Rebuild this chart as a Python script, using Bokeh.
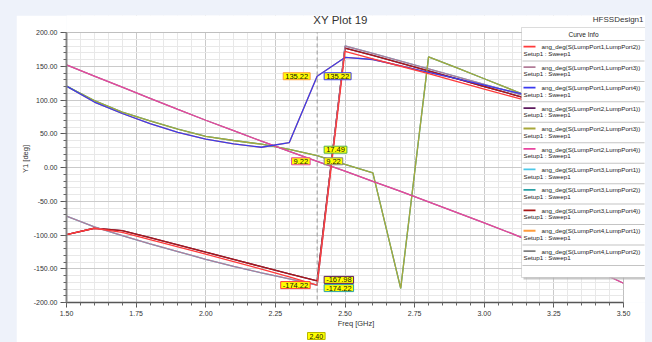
from bokeh.plotting import figure
from bokeh.layouts import column
from bokeh.models import (Range1d, SingleIntervalTicker, NumeralTickFormatter, Span,
                          Label, BoxAnnotation, Title)
from bokeh.embed import file_html
from bokeh.resources import INLINE

# ---------------- data ----------------
freq = [1.5, 1.6, 1.7, 1.8, 1.9, 2.0, 2.1, 2.2, 2.3, 2.4, 2.5,
        2.6, 2.7, 2.8, 2.9, 3.0, 3.1, 3.2, 3.3, 3.4, 3.5]

s12 = [-99.5, -90, -96, -107, -117.5, -128.5, -139.5, -150.5, -162, -174.22, 172,
       161, 150, 139, 127.5, 116, 105, 94, 83, 72, 61]
s13 = [-72, -88, -101, -113, -124.5, -136, -146.5, -156, -165, -174.22, 180,
       169, 157.5, 146, 134.5, 123, 111.5, 100, 88.5, 77, 65.5]
s14 = [120.5, 97, 80, 65, 52, 42, 35, 30, 37, 135.22, 163,
       160, 150.5, 141, 131.5, 122, 112.5, 103, 93.5, 84, 74.5]
s21 = [-99.5, -90, -93.5, -104, -114.5, -125.5, -136, -147, -157.5, -167.98, 177,
       166, 154.5, 143, 131.5, 120, 108.5, 97, 85.5, 74, 62.5]
s23 = [120.5, 99, 82, 69, 57, 46, 40, 34.5, 27, 17.49, 4.7,
       -8, -179, 164, 148, 131.5, 115, 98.5, 82, 65.5, 49]
s24 = [152, 135.5, 119, 102.5, 86, 70, 54.5, 39, 24, 9.22, -5.5,
       -20.5, -35.5, -51, -66.5, -82, -98, -115, -133, -152, -171.5]
s31 = [-72, -88, -101, -113, -124.5, -136, -146.5, -156, -165, -174.22, 180,
       169, 157.5, 146, 134.5, 123, 111.5, 100, 88.5, 77, 65.5]
s32 = [120.5, 99, 82, 69, 57, 46, 40, 34.5, 27, 17.49, 4.7,
       -8, -179, 164, 148, 131.5, 115, 98.5, 82, 65.5, 49]
s34 = [-99.5, -90, -93.5, -104, -114.5, -125.5, -136, -147, -157.5, -167.98, 177,
       166, 154.5, 143, 131.5, 120, 108.5, 97, 85.5, 74, 62.5]
s41 = [120.5, 97, 80, 65, 52, 42, 35, 30, 37, 135.22, 163,
       160, 150.5, 141, 131.5, 122, 112.5, 103, 93.5, 84, 74.5]
s42 = [152, 135.5, 119, 102.5, 86, 70, 54.5, 39, 24, 9.22, -5.5,
       -20.5, -35.5, -51, -66.5, -82, -98, -115, -133, -152, -171.5]

names = ["ang_deg(S(LumpPort1,LumpPort2))", "ang_deg(S(LumpPort1,LumpPort3))",
         "ang_deg(S(LumpPort1,LumpPort4))", "ang_deg(S(LumpPort2,LumpPort1))",
         "ang_deg(S(LumpPort2,LumpPort3))", "ang_deg(S(LumpPort2,LumpPort4))",
         "ang_deg(S(LumpPort3,LumpPort1))", "ang_deg(S(LumpPort3,LumpPort2))",
         "ang_deg(S(LumpPort3,LumpPort4))", "ang_deg(S(LumpPort4,LumpPort1))",
         "ang_deg(S(LumpPort4,LumpPort2))"]
setup_label = "Setup1 : Sweep1"
marker_freq = 2.4
x_lim = (1.5, 3.5)
y_lim = (-200, 200)

colors = ["#ff3b3b", "#b27c98", "#3a3af0", "#5c1a5e", "#a8a83a", "#e8459f",
          "#4cc8e8", "#2aa0a4", "#a81818", "#ff9d3c", "#808080"]
series = [s12, s13, s14, s21, s23, s24, s31, s32, s34, s41, s42]
draw_order = [9, 10, 7, 6, 3, 8, 1, 4, 5, 2, 0]

FONT = "Liberation Sans"

# ---------------- layout (figure pixels) ----------------
MARGIN_L, MARGIN_T = 16, 15
FIG_W, FIG_H = 629, 327
FRAME_L, FRAME_R = 50, 629      # frame spans the legend column too
FRAME_T, FRAME_B = 0, 287
DATA_R, DATA_T = 607, 17         # pixel where x=3.5 and y=200 fall
px_per_x = (DATA_R - FRAME_L) / (x_lim[1] - x_lim[0])
px_per_y = (FRAME_B - DATA_T) / (y_lim[1] - y_lim[0])
x_end = x_lim[1] + (FRAME_R - DATA_R) / px_per_x
y_end = y_lim[1] + (DATA_T - FRAME_T) / px_per_y

p = figure(width=FIG_W, height=FIG_H, output_backend="svg", toolbar_location=None,
           x_range=Range1d(x_lim[0], x_end), y_range=Range1d(y_lim[0], y_end),
           min_border_left=FRAME_L, min_border_right=FIG_W - FRAME_R,
           min_border_top=FRAME_T, min_border_bottom=FIG_H - FRAME_B)
p.margin = (MARGIN_T, 652 - MARGIN_L - FIG_W, 0, MARGIN_L)
p.title.visible = False
p.background_fill_color = "white"
p.border_fill_color = "white"
p.outline_line_color = None

p.xaxis.ticker = SingleIntervalTicker(interval=0.25, num_minor_ticks=5)
p.yaxis.ticker = SingleIntervalTicker(interval=50, num_minor_ticks=5)
p.xaxis.formatter = NumeralTickFormatter(format="0.00")
p.yaxis.formatter = NumeralTickFormatter(format="0.00")
p.xaxis.bounds = x_lim
p.yaxis.bounds = y_lim
p.xaxis.axis_label = "Freq [GHz]"
p.yaxis.axis_label = "Y1 [deg]"
for ax in (p.xaxis[0], p.yaxis[0]):
    ax.axis_label_text_font = FONT
    ax.axis_label_text_font_size = "7.5px"
    ax.axis_label_text_font_style = "normal"
    ax.axis_label_text_color = "#333333"
    ax.major_label_text_font = FONT
    ax.major_label_text_font_size = "7px"
    ax.major_label_text_color = "#333333"
    ax.major_tick_in = 0
    ax.minor_tick_in = 0
    ax.minor_tick_out = 3
    ax.major_tick_line_color = "#555555"
    ax.minor_tick_line_color = "#666666"
    ax.major_label_standoff = 3
p.yaxis.major_tick_out = 6
p.yaxis.axis_label_standoff = 1
p.xaxis.major_tick_out = 5
p.xaxis.axis_label_standoff = 0
p.yaxis.axis_line_color = "#8a8a8a"
p.yaxis.axis_line_width = 2
p.xaxis.axis_line_color = "#555555"
p.xaxis.axis_line_width = 1.5

for g in (p.xgrid[0], p.ygrid[0]):
    g.grid_line_color = "#cacaca"
    g.minor_grid_line_color = "#e8e8e8"

renderers = [None] * len(series)
for i in draw_order:
    renderers[i] = p.line(freq, series[i], line_color=colors[i], line_width=1.3)

# marker line at 2.40
p.add_layout(Span(location=marker_freq, dimension="height", line_color="#9a9a9a",
                  line_dash="4 3", line_width=1))

# white cover outside the data area, then the frame border
p.add_layout(BoxAnnotation(bottom=y_lim[1], fill_color="white", fill_alpha=1,
                           line_color=None))
p.add_layout(BoxAnnotation(left=x_lim[1], fill_color="white", fill_alpha=1,
                           line_color=None))
p.add_layout(BoxAnnotation(left=x_lim[0], right=x_lim[1], bottom=y_lim[0], top=y_lim[1],
                           fill_alpha=0, line_color="#666666", line_width=1))

mi = freq.index(marker_freq)

def marker_label(vals, color, side, dy=0):
    p.add_layout(Label(x=marker_freq, y=vals[mi], text="%.2f" % vals[mi],
                       x_offset=(-7 if side == "left" else 7), y_offset=dy,
                       text_align=("right" if side == "left" else "left"),
                       text_baseline="middle", text_font=FONT, text_font_size="7.5px",
                       text_color="#111111", background_fill_color="#ffff00",
                       border_line_color=color, border_line_width=1, padding=(2, 1)))

marker_label(s41, colors[9], "left")
marker_label(s14, colors[2], "right")
marker_label(s24, colors[5], "left")
marker_label(s42, colors[10], "right")
marker_label(s32, "#50b050", "right", dy=6)
marker_label(s12, colors[0], "left")
marker_label(s13, colors[7], "right", dy=-3)
marker_label(s21, colors[3], "right", dy=1)

p.add_layout(Title(text="%.2f" % marker_freq, align="left",
                   offset=int(round((marker_freq - x_lim[0]) * px_per_x)) - 10,
                   text_font=FONT, text_font_size="7px", text_font_style="normal",
                   text_color="#111111", background_fill_color="#ffff00",
                   border_line_color="#b8b800", padding=(2, 1), standoff=0), "below")

# ---- screen helpers (page coords -> frame-relative screen units) ----
PAGE_FRAME_L = MARGIN_L + FRAME_L
PAGE_FRAME_B = MARGIN_T + FRAME_B
def sx(X):
    return X - PAGE_FRAME_L
def sy(Y):
    return PAGE_FRAME_B - Y

def text(X, Y, s, size, align="left", color="#222222"):
    p.add_layout(Label(x=sx(X), y=sy(Y), x_units="screen", y_units="screen", text=s,
                       text_align=align, text_baseline="middle", text_font=FONT,
                       text_font_size=size, text_color=color))

def hbox(X0, X1, Y0, Y1, fill, line=None, alpha=1.0):
    p.add_layout(BoxAnnotation(left=sx(X0), right=sx(X1), top=sy(Y0), bottom=sy(Y1),
                               left_units="screen", right_units="screen",
                               top_units="screen", bottom_units="screen",
                               fill_color=fill, fill_alpha=alpha, line_color=line,
                               line_width=1))

# titles
text(340, 19, "XY Plot 19", "11.5px", align="center", color="#333333")
text(643, 18.5, "HFSSDesign1", "8px", align="right", color="#333333")

# ---- curve info box ----
LEG_L, LEG_R, LEG_T, LEG_B = 521, 645, 27, 277
hbox(LEG_L + 2, LEG_R + 2, LEG_T + 2, LEG_B + 2, "#b0b0b0", alpha=0.7)
hbox(LEG_L, LEG_R, LEG_T, LEG_B, "white", line="#8a8a8a")
text((LEG_L + LEG_R) / 2, 34, "Curve Info", "6.5px", align="center")
pitch = 20.45
for k in range(len(series) + 1):
    ys = 40 + pitch * k
    hbox(LEG_L + 1, LEG_R - 1, ys - 0.5, ys + 0.5, "#c4c4c4")
for k in range(len(series)):
    ys = 40 + pitch * k
    hbox(523, 535, ys + 5.3, ys + 7.1, colors[k])
    text(541, ys + 6.3, names[k], "6.2px")
    text(523, ys + 12.8, setup_label, "6.2px")

page = column(p, styles={"background-color": "#eef2fa"})
open("out.html", "w").write(file_html(page, INLINE))
